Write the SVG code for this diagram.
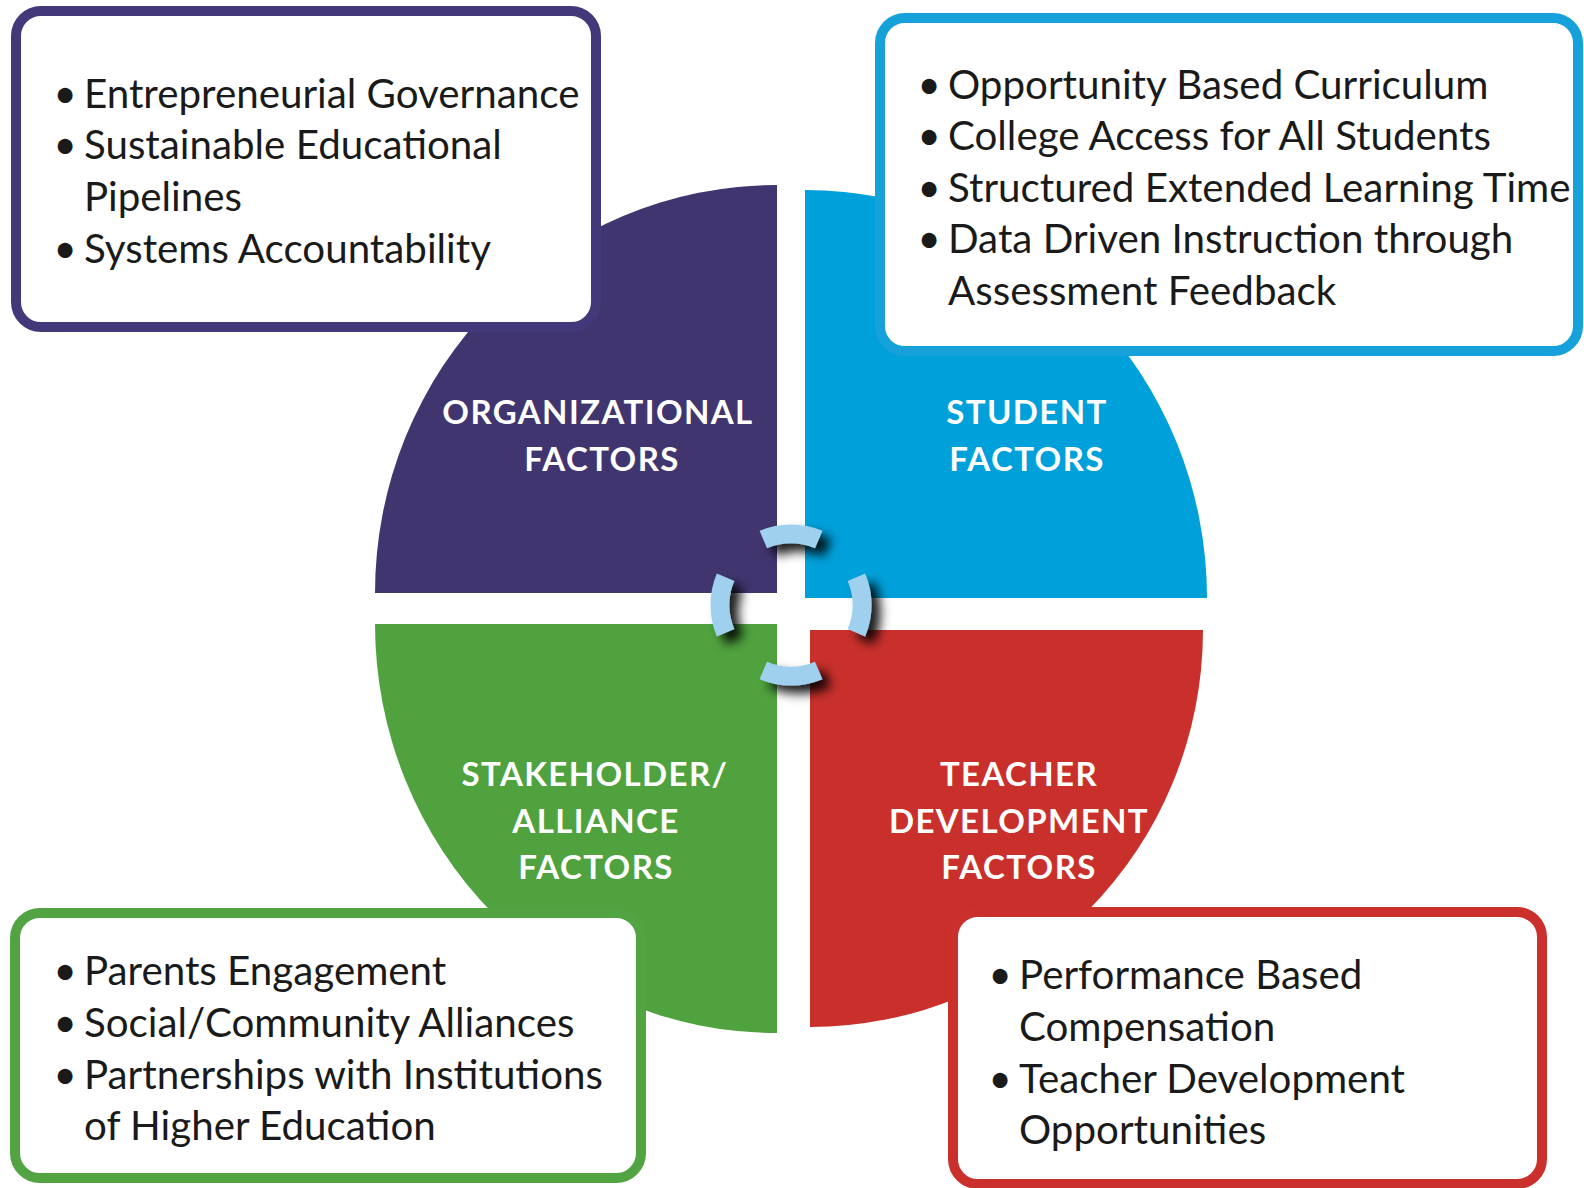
<svg xmlns="http://www.w3.org/2000/svg" width="1584" height="1188" viewBox="0 0 1584 1188">
<style>
.lbl{font-family:Lato,"Open Sans","Liberation Sans",sans-serif;font-weight:700;font-size:33px;fill:#ffffff;text-anchor:middle;letter-spacing:1.4px}
.itm{font-family:Lato,"Open Sans","Liberation Sans",sans-serif;font-size:40.3px;fill:#1a1a1a}
.bul{font-family:Lato,"Open Sans","Liberation Sans",sans-serif;font-size:40px;fill:#1a1a1a;text-anchor:middle}
.box{fill:#ffffff;stroke-width:10}
.seg{fill:none;stroke:#9fd1ee;stroke-width:19;stroke-linecap:butt}
</style>
<defs>
<filter id="sh" x="-50%" y="-50%" width="200%" height="200%">
<feDropShadow dx="9" dy="8" stdDeviation="5.5" flood-color="#000" flood-opacity="0.9"/>
</filter>
</defs>
<rect width="1584" height="1188" fill="#ffffff"/>

<g id="q-organizational">
<path d="M777,593 L375,593 A402,408 0 0 1 777,185 Z" fill="#41356f"/>
<text class="lbl" x="598" y="424">ORGANIZATIONAL</text>
<text class="lbl" x="602" y="471">FACTORS</text>
</g>
<g id="q-student">
<path d="M805,598 L805,190 A402,408 0 0 1 1207,598 Z" fill="#00a0da"/>
<text class="lbl" x="1027" y="424">STUDENT</text>
<text class="lbl" x="1027" y="471">FACTORS</text>
</g>
<g id="q-stakeholder">
<path d="M777,624 L777,1033 A402,409 0 0 1 375,624 Z" fill="#4fa23e"/>
<text class="lbl" x="595" y="786">STAKEHOLDER/</text>
<text class="lbl" x="596" y="833">ALLIANCE</text>
<text class="lbl" x="596" y="879">FACTORS</text>
</g>
<g id="q-teacher">
<path d="M810,630 L1203,630 A393,397 0 0 1 810,1027 Z" fill="#c9302c"/>
<text class="lbl" x="1019" y="786">TEACHER</text>
<text class="lbl" x="1019" y="833">DEVELOPMENT</text>
<text class="lbl" x="1019" y="879">FACTORS</text>
</g>

<g id="box-organizational">
<rect class="box" x="16" y="11" width="580" height="316" rx="25" stroke="#43387a"/>
<text class="bul" x="65" y="108">•</text><text class="itm" x="84" y="108">Entrepreneurial Governance</text>
<text class="bul" x="65" y="159">•</text><text class="itm" x="84" y="159">Sustainable Educational</text>
<text class="itm" x="84" y="211">Pipelines</text>
<text class="bul" x="65" y="263">•</text><text class="itm" x="84" y="263">Systems Accountability</text>
</g>
<g id="box-student">
<rect class="box" x="880" y="18" width="698" height="333" rx="25" stroke="#17a1da"/>
<text class="bul" x="929" y="99">•</text><text class="itm" x="948" y="99">Opportunity Based Curriculum</text>
<text class="bul" x="929" y="150">•</text><text class="itm" x="948" y="150">College Access for All Students</text>
<text class="bul" x="929" y="202">•</text><text class="itm" x="948" y="202">Structured Extended Learning Time</text>
<text class="bul" x="929" y="253">•</text><text class="itm" x="948" y="253">Data Driven Instruction through</text>
<text class="itm" x="948" y="305">Assessment Feedback</text>
</g>
<g id="box-stakeholder">
<rect class="box" x="15" y="913" width="626" height="265" rx="25" stroke="#52a443"/>
<text class="bul" x="65" y="985">•</text><text class="itm" x="84" y="985">Parents Engagement</text>
<text class="bul" x="65" y="1037">•</text><text class="itm" x="84" y="1037">Social/Community Alliances</text>
<text class="bul" x="65" y="1089">•</text><text class="itm" x="84" y="1089">Partnerships with Institutions</text>
<text class="itm" x="84" y="1140">of Higher Education</text>
</g>
<g id="box-teacher">
<rect class="box" x="953" y="912" width="589" height="272" rx="25" stroke="#ca312d"/>
<text class="bul" x="1000" y="989">•</text><text class="itm" x="1019" y="989">Performance Based</text>
<text class="itm" x="1019" y="1041">Compensation</text>
<text class="bul" x="1000" y="1093">•</text><text class="itm" x="1019" y="1093">Teacher Development</text>
<text class="itm" x="1019" y="1144">Opportunities</text>
</g>

<g id="connectors">
<g id="ring" filter="url(#sh)">
<path class="seg" d="M763.3,539.6 A71,71 0 0 1 818.7,539.6"/>
<path class="seg" d="M856.4,577.3 A71,71 0 0 1 856.4,632.7"/>
<path class="seg" d="M818.7,670.4 A71,71 0 0 1 763.3,670.4"/>
<path class="seg" d="M725.6,632.7 A71,71 0 0 1 725.6,577.3"/>
</g>
</g>
</svg>
